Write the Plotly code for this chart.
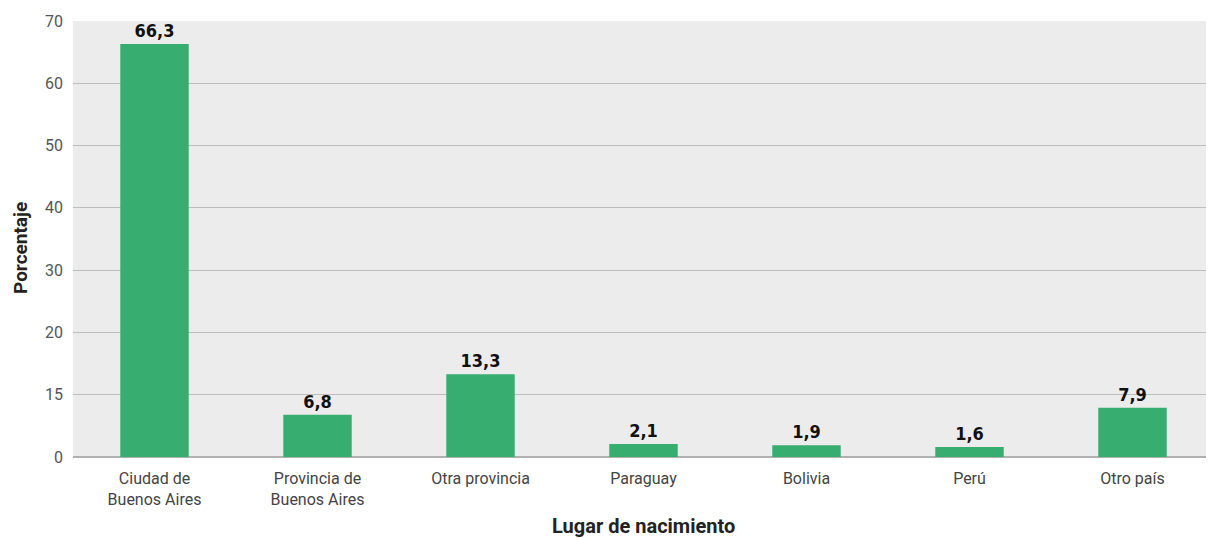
import plotly.graph_objects as go

# Data
categories = [
    "Ciudad de<br>Buenos Aires",
    "Provincia de<br>Buenos Aires",
    "Otra provincia",
    "Paraguay",
    "Bolivia",
    "Perú",
    "Otro país",
]
values = [66.3, 6.8, 13.3, 2.1, 1.9, 1.6, 7.9]
tick_vals = [0, 10, 20, 30, 40, 50, 60, 70]
tick_text = ["0", "15", "20", "30", "40", "50", "60", "70"]

BAR_COLOR = "#37ae70"
PLOT_BG = "#ececec"
GRID = "#bdbdbd"
TEXT = "#444444"
TITLE = "#222222"

labels = [f"{v:.1f}".replace(".", ",") for v in values]

fig = go.Figure(go.Bar(
    x=categories,
    y=values,
    marker_color=BAR_COLOR,
    marker_line_width=0,
    text=labels,
    textposition="outside",
    cliponaxis=False,
    textfont=dict(family="DejaVu Sans Condensed, sans-serif", size=18,
                  color="#111111", weight="bold"),
    hoverinfo="skip",
))

# page body adds an 8px margin, so the figure is offset to line up
fig.update_layout(
    width=1206,
    height=530,
    margin=dict(l=65, r=0, t=13, b=81),
    paper_bgcolor="white",
    plot_bgcolor=PLOT_BG,
    bargap=0.58,
    showlegend=False,
    font=dict(family="Roboto, sans-serif", size=16, color=TEXT),
    xaxis=dict(
        tickfont=dict(size=16, color=TEXT),
        showgrid=False,
        ticks="",
        ticklabelstandoff=10,
        automargin=False,
    ),
    yaxis=dict(
        range=[0, 70],
        tickvals=tick_vals,
        ticktext=tick_text,
        tickfont=dict(size=16, color="#555555"),
        gridcolor=GRID,
        gridwidth=1,
        zeroline=True,
        zerolinecolor="#b0b0b0",
        zerolinewidth=2,
        ticks="",
        ticklabelstandoff=9,
        automargin=False,
    ),
    annotations=[
        dict(
            text="<b>Porcentaje</b>",
            xref="paper", yref="paper", x=0, y=0.5,
            xanchor="center", yanchor="middle",
            xshift=-53, yshift=-9,
            textangle=-90, showarrow=False,
            font=dict(size=19, color=TITLE),
        ),
        dict(
            text="<b>Lugar de nacimiento</b>",
            xref="paper", yref="paper", x=0.5, y=0,
            xanchor="center", yanchor="middle",
            yshift=-69, showarrow=False,
            font=dict(size=20, color=TITLE),
        ),
    ],
)

fig.write_html("out.html")
